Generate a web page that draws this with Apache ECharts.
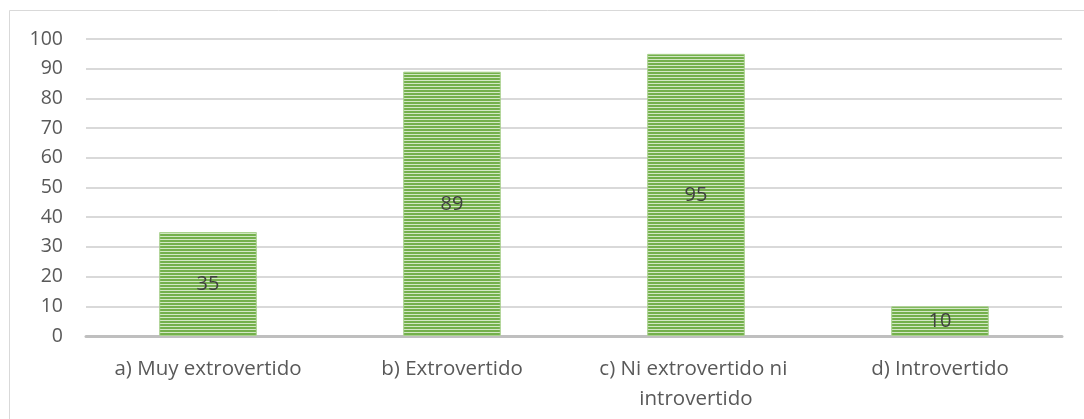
<!DOCTYPE html>
<html>
<head>
<meta charset="utf-8">
<script src="https://cdn.jsdelivr.net/npm/echarts@6/dist/echarts.min.js"></script>
<style>
  html, body { margin: 0; padding: 0; background: #ffffff; }
  #chart { width: 1084px; height: 419px; }
</style>
</head>
<body>
<div id="chart"></div>
<script>
// Categories and counts
const categories = ['a) Muy extrovertido', 'b) Extrovertido', 'c) Ni extrovertido ni introvertido', 'd) Introvertido'];
const values = [35, 89, 95, 10];
const yTicks = { min: 0, max: 100, interval: 10 };

// Horizontal stripe fill for the bars
function stripePattern() {
  const c = document.createElement('canvas');
  c.width = 4; c.height = 3;
  const ctx = c.getContext('2d');
  ctx.fillStyle = '#74b04c';
  ctx.fillRect(0, 0, 4, 3);
  ctx.fillStyle = '#d3e8c5';
  ctx.fillRect(0, 2, 4, 1);
  return c;
}

const FONT = '"Open Sans", "Noto Sans", sans-serif';
const chart = echarts.init(document.getElementById('chart'), null, { renderer: 'canvas' });

chart.setOption({
  animation: false,
  backgroundColor: '#ffffff',
  graphic: [{
    type: 'rect',
    shape: { x: 9.5, y: 10.5, width: 1200, height: 600 },
    style: { fill: 'none', stroke: '#d9d9d9', lineWidth: 1 },
    silent: true
  }],
  grid: { left: 86, right: 22, top: 39, bottom: 83, containLabel: false },
  xAxis: {
    type: 'category',
    data: categories,
    axisLine: { show: true, lineStyle: { color: '#bfbfbf', width: 3 } },
    axisTick: { show: false },
    axisLabel: {
      color: '#595959',
      fontFamily: FONT,
      fontSize: 20.5,
      lineHeight: 30,
      margin: 18,
      width: 236,
      overflow: 'break',
      interval: 0
    }
  },
  yAxis: {
    type: 'value',
    min: yTicks.min,
    max: yTicks.max,
    interval: yTicks.interval,
    axisLine: { show: false },
    axisTick: { show: false },
    splitLine: { lineStyle: { color: '#d9d9d9', width: 2 } },
    axisLabel: {
      color: '#595959',
      fontFamily: FONT,
      fontSize: 19.5,
      margin: 23
    }
  },
  series: [{
    type: 'bar',
    data: values,
    barWidth: '40%',
    itemStyle: {
      color: { image: stripePattern(), repeat: 'repeat' },
      borderColor: '#a9d18e',
      borderWidth: 1
    },
    label: {
      show: true,
      position: 'inside',
      color: '#404040',
      fontFamily: FONT,
      fontSize: 20
    }
  }]
});
</script>
</body>
</html>
